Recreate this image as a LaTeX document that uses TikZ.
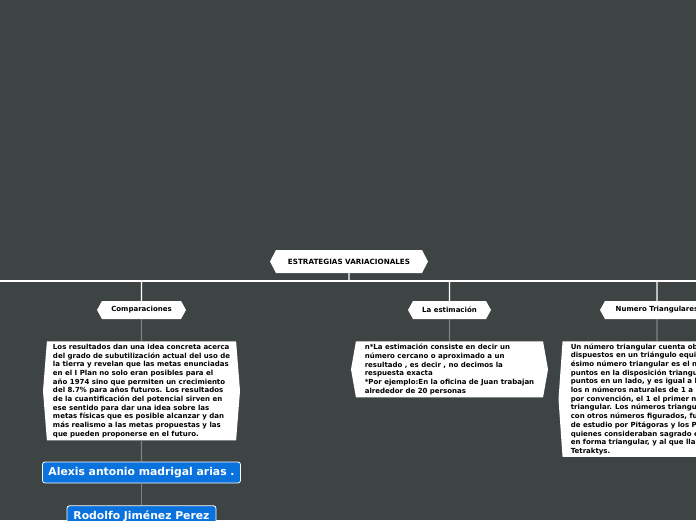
\documentclass[tikz,border=0pt]{standalone}
\usepackage{fontspec}
\setmainfont{DejaVu Sans}
\usetikzlibrary{positioning, shapes.symbols}
\definecolor{bgdark}{RGB}{62,68,68}
\definecolor{linkgray}{RGB}{125,130,130}
\definecolor{nameblue}{RGB}{10,114,220}

\begin{document}
\begin{tikzpicture}[
    x=1pt, y=-1pt, node distance=22pt,
    hexbox/.style={shape=signal, signal to=east and west, fill=white,
      text=black, inner ysep=0pt},
    topic/.style={hexbox, minimum height=18pt, signal pointer angle=122,
      font=\bfseries\fontsize{7}{8}\selectfont},
    notebox/.style={hexbox, align=left, minimum width=197pt, inner xsep=1pt,
      inner ysep=2pt, font=\bfseries\fontsize{7}{8.7}\selectfont},
    namebox/.style={draw=white, fill=nameblue, rounded corners=2.5pt,
      text=white, line width=0.8pt, minimum height=21pt, inner xsep=4pt,
      font=\bfseries\fontsize{10.8}{12}\selectfont},
    bus/.style={draw=white, line width=1.3pt},
    link/.style={draw=linkgray, line width=1.2pt}
  ]

  % canvas
  \useasboundingbox (0,0) rectangle (696,520);
  \clip (0,0) rectangle (696,520);
  \fill[bgdark] (0,0) rectangle (696,520);

  % central topic
  \node[hexbox, minimum width=158pt, minimum height=23pt,
        signal pointer angle=125,
        font=\bfseries\fontsize{7.2}{8}\selectfont] (title) at (349,261.5)
    {ESTRATEGIAS VARIACIONALES};
  \coordinate (busL) at (0,281);
  \coordinate (busR) at (696,281);

  % main branches
  \node[topic, minimum width=89pt] (comp) at (141.5,310) {Comparaciones};
  \node[topic, minimum width=83pt] (est) at (449.5,310) {La estimación};
  \node[topic, minimum width=114pt] (num) at (657,310) {Numero Triangulares};

  % notes
  \node[notebox, minimum height=99pt, signal pointer angle=171,
        below=of comp] (comptext)
    {Los resultados dan una idea concreta acerca\\
     del grado de subutilización actual del uso de\\
     la tierra y revelan que las metas enunciadas\\
     en el I Plan no solo eran posibles para el\\
     año 1974 sino que permiten un crecimiento\\
     del 8.7\% para años futuros. Los resultados\\
     de la cuantificación del potencial sirven en\\
     ese sentido para dar una idea sobre las\\
     metas físicas que es posible alcanzar y dan\\
     más realismo a las metas propuestas y las\\
     que pueden proponerse en el futuro.};
  \node[notebox, minimum height=56pt, signal pointer angle=160,
        below=of est] (esttext)
    {n*La estimación consiste en decir un\\
     número cercano o aproximado a un\\
     resultado , es decir , no decimos la\\
     respuesta exacta\\
     *Por ejemplo:En la oficina de Juan trabajan\\
     alrededor de 20 personas};
  \node[notebox, minimum height=115pt, signal pointer angle=172,
        below=of num] (numtext)
    {Un número triangular cuenta objetos\\
     dispuestos en un triángulo equilátero. El n-\\
     ésimo número triangular es el número de\\
     puntos en la disposición triangular con n\\
     puntos en un lado, y es igual a la suma de\\
     los n números naturales de 1 a n. Siendo,\\
     por convención, el 1 el primer número\\
     triangular. Los números triangulares, junto\\
     con otros números figurados, fueron objeto\\
     de estudio por Pitágoras y los Pitagóricos,\\
     quienes consideraban sagrado el 10 escrito\\
     en forma triangular, y al que llamaban\\
     Tetraktys.};

  % authors
  \node[namebox, minimum width=198pt, below=21pt of comptext] (alexis)
    {Alexis antonio madrigal arias .};
  \node[namebox, minimum width=149pt, below=of alexis] (rodolfo)
    {Rodolfo Jiménez Perez};

  \draw[bus] (title) -- (title |- busL);
  \draw[bus] (busL) -- (busR);
  \draw[bus] (comp |- busL) -- (comp);
  \draw[bus] (est |- busL) -- (est);
  \draw[bus] (num |- busL) -- (num);
  \draw[link] (comp) -- (comptext);
  \draw[link] (est) -- (esttext);
  \draw[link] (num) -- (numtext);
  \draw[link] (comptext) -- (alexis);
  \draw[link] (alexis) -- (rodolfo);
\end{tikzpicture}
\end{document}
